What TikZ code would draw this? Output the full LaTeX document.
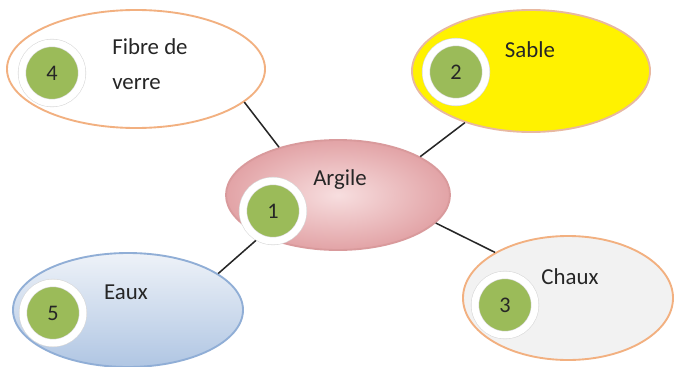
\documentclass[tikz,border=0pt]{standalone}
\usepackage{fontspec}
\setmainfont{Carlito}
\usetikzlibrary{shapes.geometric, shadows}

\definecolor{rimorange}{HTML}{F2B080}
\definecolor{rimtan}{HTML}{E8B8A0}
\definecolor{rimblue}{HTML}{90AED6}
\definecolor{rimpink}{HTML}{D99A9C}
\definecolor{argilein}{HTML}{F7DEDF}
\definecolor{argileout}{HTML}{E2A3A6}
\definecolor{eauxtop}{HTML}{EEF2F8}
\definecolor{eauxbot}{HTML}{B0C6E3}
\definecolor{chauxfill}{HTML}{F2F2F2}
\definecolor{numgreen}{HTML}{9BBB59}
\definecolor{textdark}{HTML}{262626}

\begin{document}
\begin{tikzpicture}[
    x=0.03cm, y=-0.03cm,
    bubble/.style={
        ellipse,
        draw,
        line width=1.6pt,
        inner sep=0pt
    },
    badge/.style={
        circle,
        fill=numgreen,
        draw=black!15,
        line width=0.5pt,
        double=white,
        double distance=0.21cm,
        minimum size=1.8cm,
        inner sep=0pt,
        text=textdark,
        font=\fontsize{19}{20}\selectfont,
        drop shadow={opacity=0.3, shadow xshift=-1pt, shadow yshift=-2pt}
    },
    caption/.style={
        text=textdark,
        align=left,
        font=\fontsize{19.5}{30}\selectfont
    },
    link/.style={line width=1.3pt, black!85}
]

\useasboundingbox[fill=white] (0,0) rectangle (675,367);

% === Bubbles ===
\node[bubble, draw=rimpink, inner color=argilein, outer color=argileout,
      minimum width=6.72cm, minimum height=3.30cm] (argile) at (338,195) {};
\node[bubble, draw=rimorange, fill=white,
      minimum width=7.74cm, minimum height=3.54cm] (fibre) at (136,69) {};
\node[bubble, draw=rimtan, fill=yellow,
      minimum width=7.14cm, minimum height=3.66cm] (sable) at (531,71) {};
\node[bubble, draw=rimorange, fill=chauxfill,
      minimum width=6.30cm, minimum height=3.72cm] (chaux) at (568,298) {};
\node[bubble, draw=rimblue, top color=eauxtop, bottom color=eauxbot,
      minimum width=6.90cm, minimum height=3.42cm] (eaux) at (128,310) {};

% === Links to the centre ===
\draw[link] (argile.141) -- (fibre.343);
\draw[link] (argile.25) -- (sable.218);
\draw[link] (argile.344) -- (chaux.148);
\draw[link] (argile.208) -- (eaux.22);

% === Numbers ===
\node[badge] (n1) at (273,211) {1};
\node[badge] (n2) at (456,72) {2};
\node[badge] (n3) at (505,305) {3};
\node[badge] (n4) at (52,73) {4};
\node[badge] (n5) at (53,313) {5};

% === Names ===
\node[caption] (argile-t) at (340,180) {Argile};
\node[caption] (sable-t) at (530,50) {Sable};
\node[caption] (fibre-t) at (150,64) {Fibre de\\verre};
\node[caption] (chaux-t) at (570,277) {Chaux};
\node[caption] (eaux-t) at (126,292) {Eaux};

\end{tikzpicture}
\end{document}
